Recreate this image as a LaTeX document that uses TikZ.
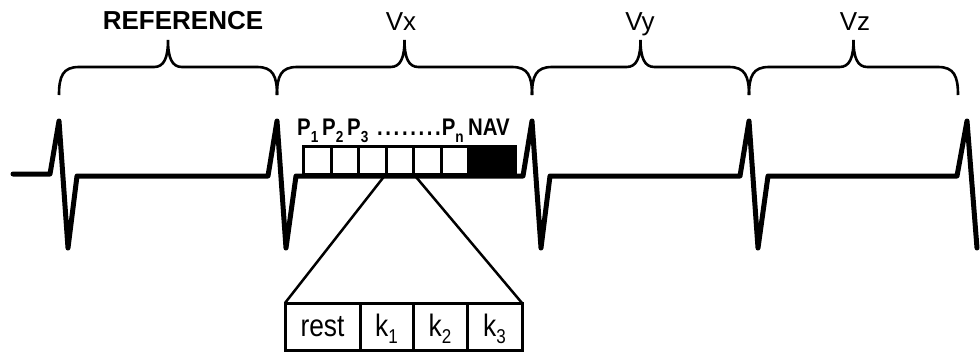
\documentclass[tikz,border=0pt]{standalone}
\usepackage{fontspec}
\setmainfont{Liberation Sans}
\newfontfamily\narrowfont[FakeStretch=0.85]{Liberation Sans}
\usepackage{tikz}
\usetikzlibrary{positioning}

% lowered index, as the figure prints it
\newcommand\lowidx[2][16]{\raisebox{-7pt}{\fontsize{#1}{#1}\selectfont #2}}
% curly bracket over one heart beat interval
\newcommand\beatbrace[2]{%
  \pgfmathsetmacro\bm{(#1+#2)/2}
  \draw[bracket] (#1,95) .. controls (#1,76) and (#1+4,67) .. (#1+20,67)
    -- (\bm-14,67) .. controls (\bm-4,67) and (\bm,58) .. (\bm,40)
    .. controls (\bm,58) and (\bm+4,67) .. (\bm+14,67)
    -- (#2-20,67) .. controls (#2-4,67) and (#2,76) .. (#2,95);
}

\begin{document}
\begin{tikzpicture}[
    x=1pt, y=-1pt,
    ecg/.style={line width=5pt, line join=round, line cap=round},
    bracket/.style={line width=2.6pt},
    pbox/.style={draw, line width=3pt, outer sep=0pt, inner sep=0pt, minimum width=27.5pt, minimum height=28pt, fill=white},
    cell/.style={draw, line width=3pt, outer sep=0pt, inner sep=0pt, minimum height=47pt, text height=24pt, text depth=4pt, font=\narrowfont\fontsize{31}{31}\selectfont},
    plabel/.style={inner sep=0pt, font=\narrowfont\bfseries\fontsize{24}{24}\selectfont},
    title/.style={inner sep=0pt, font=\fontsize{26}{26}\selectfont},
    zoomline/.style={line width=2.5pt}
  ]
    \useasboundingbox (0,0) rectangle (980,354);

    % brackets and their titles
    \beatbrace{59}{277}
    \beatbrace{277}{532}
    \beatbrace{532}{749}
    \beatbrace{749}{958}
    \node[title, font=\bfseries\fontsize{26}{26}\selectfont, anchor=base] (tref) at (183,29) {REFERENCE};
    \node[title, anchor=base] (tvx) at (401,30) {Vx};
    \node[title, anchor=base] (tvy) at (640,30) {Vy};
    \node[title, anchor=base] (tvz) at (855,30) {Vz};

    % ECG trace
    \draw[ecg] (13,174) -- (50,174) -- (59,121) -- (68,248) -- (77,176)
      -- (268,176) -- (277,121) -- (286,248) -- (296,176)
      -- (523,176) -- (532,121) -- (541,248) -- (550,176)
      -- (740,176) -- (749,121) -- (758,248) -- (768,176)
      -- (957,176) -- (967,121) -- (977,248);

    % acquisition blocks
    \node[pbox, anchor=south west] (p1) at (303.5,174) {};
    \node[pbox, right=0pt of p1] (p2) {};
    \node[pbox, right=0pt of p2] (p3) {};
    \node[pbox, right=0pt of p3] (p4) {};
    \node[pbox, right=0pt of p4] (p5) {};
    \node[pbox, right=0pt of p5] (p6) {};
    \node[pbox, fill=black, minimum width=46.5pt, right=0pt of p6] (nav) {};

    \node[plabel, anchor=base west] (lp1) at (297,135) {P\lowidx{1}};
    \node[plabel, anchor=base west] (lp2) at (322,135) {P\lowidx{2}};
    \node[plabel, anchor=base west] (lp3) at (347,135) {P\lowidx{3}};
    \node[plabel, anchor=base west] (lpn) at (377,135) {.\kern2.6pt.\kern2.6pt.\kern2.6pt.\kern2.6pt.\kern2.6pt.\kern2.6pt.\kern2.6pt.\kern1pt P\lowidx{n}};
    \node[plabel, anchor=base] (lnav) at (489,135) {NAV};

    % zoom into one block
    \node[cell, minimum width=75pt, anchor=south west] (rest) at (285,350) {rest};
    \node[cell, minimum width=53pt, right=0pt of rest] (k1) {k\lowidx[20]{1}};
    \node[cell, minimum width=54pt, right=0pt of k1] (k2) {k\lowidx[20]{2}};
    \node[cell, minimum width=55pt, right=0pt of k2] (k3) {k\lowidx[20]{3}};

    \draw[zoomline] (p4.south west) -- (rest.north west);
    \draw[zoomline] (p4.south east) -- (k3.north east);
  \end{tikzpicture}
\end{document}
